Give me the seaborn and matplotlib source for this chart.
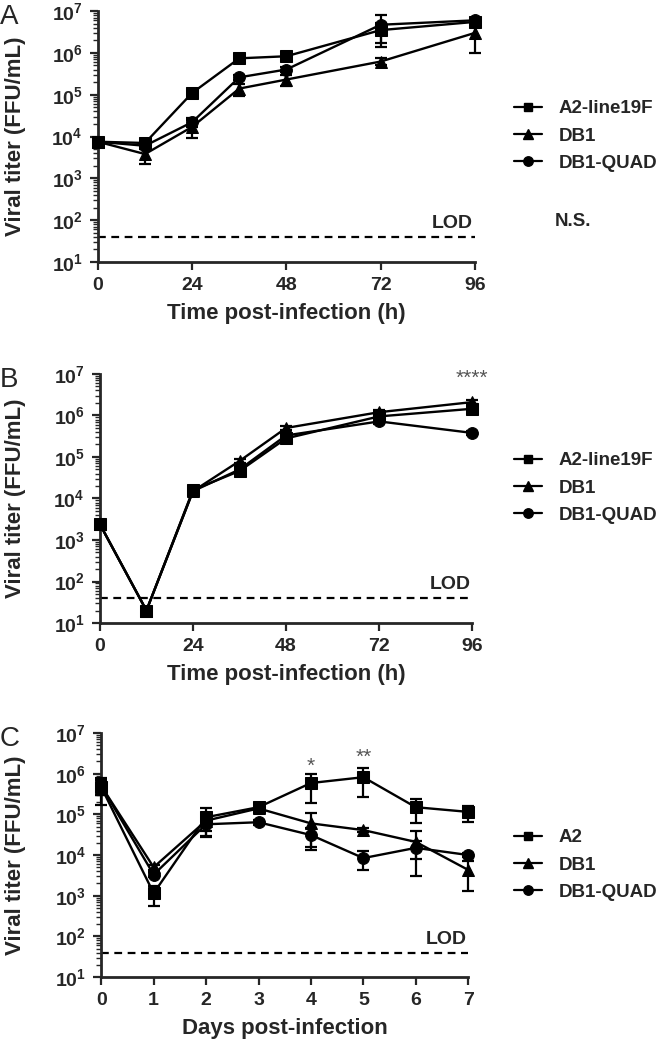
import numpy as np
import pandas as pd
import matplotlib
matplotlib.use("Agg")
import matplotlib.pyplot as plt
import seaborn as sns
from matplotlib.lines import Line2D
from matplotlib.ticker import LogLocator, FixedLocator, NullFormatter

# ---- data ----
hours = [0, 12, 24, 36, 48, 72, 96]
days = [0, 1, 2, 3, 4, 5, 6, 7]
LOD = 40

# panel A
a_a2 = [7.5e3, 7.0e3, 1.1e5, 7.4e5, 8.3e5, 3.5e6, 5.5e6]
a_a2_err = [1e3, 1e3, 2.5e4, 6e4, 8e4, 1.8e6, 5e5]
a_db1 = [7.5e3, 3.8e3, 1.7e4, 1.4e5, 2.3e5, 6.2e5, 3.0e6]
a_db1_err = [1e3, 1.6e3, 8e3, 4.5e4, 7e4, 1.2e5, 2.0e6]
a_quad = [7.5e3, 6.0e3, 2.2e4, 2.6e5, 4.0e5, 4.7e6, 6.0e6]
a_quad_err = [1e3, 1e3, 5e3, 4e4, 6e4, 3.3e6, 5e5]

# panel B
b_a2 = [2.4e3, 20, 1.6e4, 4.6e4, 2.8e5, 9.5e5, 1.45e6]
b_a2_err = [3e2, 2, 3e3, 8e3, 4e4, 1e5, 1.5e5]
b_db1 = [2.4e3, 20, 1.5e4, 8.0e4, 5.0e5, 1.2e6, 2.1e6]
b_db1_err = [3e2, 2, 3e3, 1e4, 6e4, 1.5e5, 2e5]
b_quad = [2.4e3, 20, 1.5e4, 5.0e4, 3.3e5, 7.2e5, 3.8e5]
b_quad_err = [3e2, 2, 3e3, 8e3, 4e4, 8e4, 4e4]

# panel C
c_a2 = [4.7e5, 1.15e3, 8.5e4, 1.5e5, 5.9e5, 8.2e5, 1.5e5, 1.15e5]
c_a2_err = [3e5, 6e2, 5.5e4, 3e4, 4e5, 5.5e5, 9e4, 5e4]
c_db1 = [5.0e5, 5.0e3, 7.0e4, 1.4e5, 6.0e4, 4.1e4, 2.1e4, 4.3e3]
c_db1_err = [2e5, 8e2, 3e4, 3e4, 4.7e4, 4e3, 1.8e4, 3e3]
c_quad = [5.0e5, 3.3e3, 5.7e4, 6.4e4, 3.1e4, 8.4e3, 1.5e4, 1.0e4]
c_quad_err = [2e5, 5e2, 3e4, 8e3, 1.5e4, 4e3, 7e3, 1e3]

labels_ab = ["A2-line19F", "DB1", "DB1-QUAD"]
labels_c = ["A2", "DB1", "DB1-QUAD"]
markers = ["s", "^", "o"]
msizes = [8, 8.5, 8.5]

sns.set_style("ticks")
plt.rcParams['font.family'] = ['Liberation Sans', 'DejaVu Sans']
plt.rcParams['font.weight'] = 'bold'

W, H = 666, 1042
fig = plt.figure(figsize=(W / 100, H / 100), dpi=100)


def panel(rect, x, series, errs, labels, xticks, xlabel, letter, leg_y):
    ax = fig.add_axes(rect)
    for lab, vals, err, m, ms in zip(labels, series, errs, markers, msizes):
        df = pd.DataFrame({"x": x, "y": vals})
        vals = np.array(vals)
        err = np.array(err)
        lo = np.minimum(err, vals * 0.999)
        ax.errorbar(x, vals, yerr=[lo, err], fmt="none", ecolor="black",
                    elinewidth=1.6, capsize=4.5, capthick=1.6, clip_on=False, zorder=3)
        sns.lineplot(data=df, x="x", y="y", marker=m, markersize=ms, color="black",
                     linewidth=1.7, markeredgecolor="black", ax=ax, clip_on=False, zorder=3)
    ax.set_yscale("log")
    ax.set_ylim(10, 1e7)
    ax.set_xlim(x[0], x[-1])
    ax.axhline(LOD, color="black", linestyle=(0, (3.5, 2.5)), linewidth=1.6, zorder=1)
    ax.text(x[-1] - (x[-1] - x[0]) * 0.005, LOD * 1.3, "LOD", ha="right", va="bottom",
            fontsize=14, fontweight="bold")
    ax.yaxis.set_major_locator(LogLocator(base=10, numticks=10))
    ax.yaxis.set_minor_locator(LogLocator(base=10, subs=np.arange(2, 10), numticks=20))
    ax.yaxis.set_minor_formatter(NullFormatter())
    ax.xaxis.set_major_locator(FixedLocator(xticks))
    ax.set_xticklabels([str(t) for t in xticks])
    ax.tick_params(axis="both", which="major", labelsize=14, width=1.6, length=6, pad=5)
    ax.tick_params(axis="y", which="minor", width=1.0, length=3.5)
    for lbl in ax.get_xticklabels() + ax.get_yticklabels():
        lbl.set_fontweight("bold")
    for s in ["left", "bottom"]:
        ax.spines[s].set_linewidth(2.0)
    sns.despine(ax=ax)
    ax_w = rect[2] * W
    ax_h = rect[3] * H
    ax.set_xlabel(xlabel, fontsize=16, fontweight="bold")
    ax.set_ylabel("Viral titer (FFU/mL)", fontsize=16, fontweight="bold")
    ax.xaxis.set_label_coords(0.5, -41 / ax_h)
    ax.yaxis.set_label_coords(-(rect[0] * W - 26) / ax_w, 0.5)
    fig.text(0.0, rect[1] + rect[3] - 6 / H, letter, fontsize=20, fontweight="normal",
             ha="left", va="center")
    handles = [Line2D([0], [0], color="black", marker=m, markersize=ms * 0.8, linewidth=1.6)
               for m, ms in zip(markers, msizes)]
    fig.legend(handles, labels, loc="center left", bbox_to_anchor=(497 / W, leg_y),
               frameon=False, handlelength=1.5, handletextpad=0.9, labelspacing=0.55,
               prop={"size": 13.5, "weight": "bold"})
    return ax


axA = panel([0.147, 0.7486, 0.566, 0.2408], hours, [a_a2, a_db1, a_quad],
            [a_a2_err, a_db1_err, a_quad_err], labels_ab, [0, 24, 48, 72, 96],
            "Time post-infection (h)", "A", 1 - 136 / H)
fig.text(555 / W, 1 - 222 / H, "N.S.", fontsize=13.5, fontweight="bold", ha="left", va="center")

axB = panel([0.150, 0.4021, 0.559, 0.2390], hours, [b_a2, b_db1, b_quad],
            [b_a2_err, b_db1_err, b_quad_err], labels_ab, [0, 24, 48, 72, 96],
            "Time post-infection (h)", "B", 1 - 488 / H)
axB.text(96, 8e6, "****", ha="center", va="center", fontsize=15, color="#555555",
         fontweight="normal")

axC = panel([0.152, 0.0624, 0.551, 0.2341], days, [c_a2, c_db1, c_quad],
            [c_a2_err, c_db1_err, c_quad_err], labels_c, days,
            "Days post-infection", "C", 1 - 865 / H)
axC.text(4, 1.5e6, "*", ha="center", va="center", fontsize=15, color="#555555", fontweight="normal")
axC.text(5, 2.6e6, "**", ha="center", va="center", fontsize=15, color="#555555", fontweight="normal")

fig.savefig("out.png", dpi=100)
